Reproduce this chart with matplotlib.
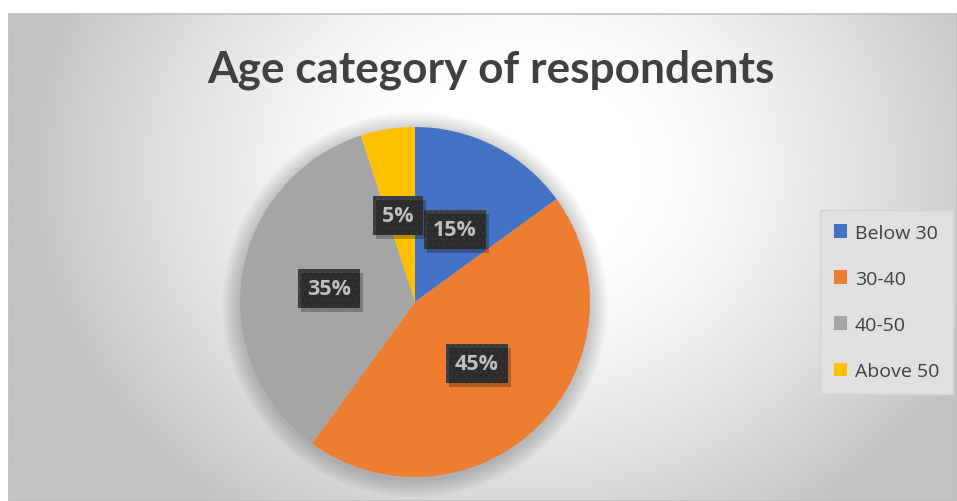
import numpy as np
import matplotlib
matplotlib.use("Agg")
import matplotlib.pyplot as plt
from matplotlib.patches import Circle, Rectangle

labels = ["Below 30", "30-40", "40-50", "Above 50"]
values = [15, 45, 35, 5]
colors = ["#4472C4", "#ED7D31", "#A5A5A5", "#FFC000"]
title = "Age category of respondents"

W, H = 957, 502
fig = plt.figure(figsize=(W / 100, H / 100), dpi=100)
fig.patch.set_facecolor("white")

def fx(px):
    return px / W

def fy(py):
    return 1 - py / H

# background chart area with radial gradient
bg = fig.add_axes([fx(9), 0, fx(948), 1 - 15 / H])
xs = np.linspace(9, 957, 400)
ys = np.linspace(15, 502, 220)
X, Y = np.meshgrid(xs, ys)
d = np.sqrt(((X - 520) / 500) ** 2 + ((Y - 170) / 430) ** 2)
t = np.clip((d - 0.25) / 0.75, 0, 1) ** 1.3
g = (255 - 60 * t) / 255
img = np.dstack([g, g, g])
bg.imshow(img, extent=[0, 1, 0, 1], aspect="auto", origin="upper")
bg.set_xlim(0, 1)
bg.set_ylim(0, 1)
bg.set_xticks([])
bg.set_yticks([])
for s in bg.spines.values():
    s.set_color("#bfbfbf")
    s.set_linewidth(1.2)

# title
ttl = fig.text(fx(491), fy(70), title, ha="center", va="center",
               fontsize=34, fontweight="bold", color="#404040", family="Lato")
fig.canvas.draw()
r = fig.canvas.get_renderer()
wpx = ttl.get_window_extent(r).width
ttl.set_fontsize(34 * 568 / wpx)

# pie
cx, cy, R = 415, 303, 175
ax = fig.add_axes([fx(cx - R), fy(cy + R), (2 * R) / W, (2 * R) / H])
ax.patch.set_alpha(0)

wedges, _ = ax.pie(values, colors=colors, startangle=90, counterclock=False,
                   radius=1.0, wedgeprops=dict(linewidth=0))
for w in wedges:
    w.set_zorder(2)

# soft shadow
for i in range(10):
    ax.add_patch(Circle((0.0, -0.015), 1.0 + 0.01 * (10 - i), color="black",
                        alpha=0.02, lw=0, zorder=0, clip_on=False))

ax.set_xlim(-1, 1)
ax.set_ylim(-1, 1)
ax.set_aspect("equal")
ax.axis("off")

tot = sum(values)
ang = 90.0
texts = []
for v, w in zip(values, wedges):
    mid = np.deg2rad(ang - 360 * v / tot / 2)
    ang -= 360 * v / tot
    x, y = 0.5 * np.cos(mid), 0.5 * np.sin(mid)
    if v == 5:
        x = x - 0.02
    if v == 15:
        y = y - 0.03
    tx = ax.text(x, y, f"{v}%", ha="center", va="center", fontsize=15.5,
                 fontweight="bold", color="white", family="Open Sans",
                 bbox=dict(boxstyle="square,pad=0.42", fc="#3c3c3c", ec="#484848",
                           lw=0, hatch="..."),
                 zorder=5, clip_on=False)
    texts.append(tx)

fig.canvas.draw()
inv = fig.transFigure.inverted()
for tx in texts:
    bb = tx.get_bbox_patch().get_window_extent(r)
    (x0, y0), (x1, y1) = inv.transform([[bb.x0 + 3, bb.y0 - 4], [bb.x1 + 3, bb.y1 - 4]])
    fig.patches.append(Rectangle((x0, y0), x1 - x0, y1 - y0, transform=fig.transFigure,
                                 fc="black", alpha=0.25, lw=0, zorder=1.5))

leg = fig.legend(wedges, labels, loc="center left",
                 bbox_to_anchor=(fx(820), fy(303)), frameon=True,
                 handlelength=0.7, handleheight=0.7,
                 labelspacing=1.45, handletextpad=0.4, borderpad=0.7,
                 borderaxespad=0, fancybox=False, prop=dict(family="Open Sans", size=14))
leg.get_frame().set_facecolor("#e0e0e0")
leg.get_frame().set_edgecolor("#d4d4d4")
leg.get_frame().set_alpha(1)
for tx in leg.get_texts():
    tx.set_color("#404040")

fig.savefig("out.png", dpi=100, facecolor="white")
